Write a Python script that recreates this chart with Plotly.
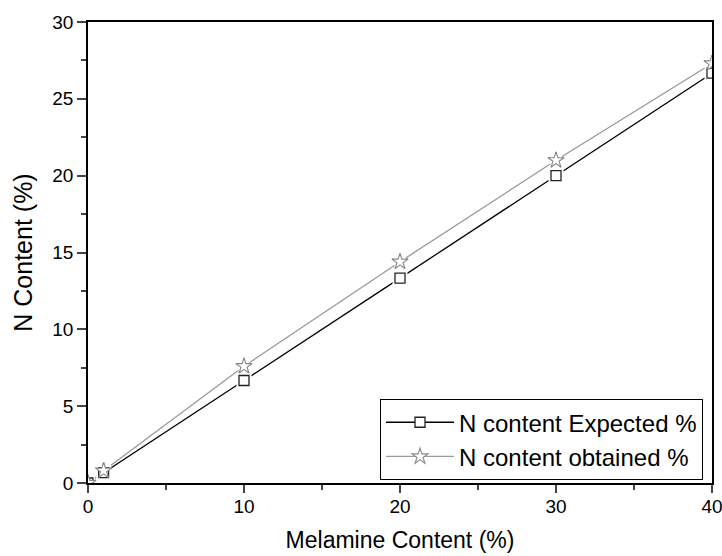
import plotly.graph_objects as go

melamine = [0, 1, 10, 20, 30, 40]
n_expected = [0, 0.67, 6.67, 13.33, 20.0, 26.67]
n_obtained = [0, 0.8, 7.6, 14.4, 21.0, 27.3]

FONT = "Arial, Liberation Sans, sans-serif"
sq_marker = dict(symbol="square", size=10, color="white", line=dict(color="#222", width=1.3))
st_marker = dict(symbol="star", size=12, color="white", line=dict(color="#888888", width=1.1))

fig = go.Figure()
fig.add_trace(go.Scatter(
    x=melamine, y=n_expected, mode="lines+markers", name="N content Expected %",
    line=dict(color="black", width=1.3), marker=sq_marker,
))
fig.add_trace(go.Scatter(
    x=melamine, y=n_obtained, mode="lines+markers", name="N content obtained %",
    line=dict(color="#999999", width=1.3), marker=st_marker,
))
# white halos to create the small gap between lines and markers
fig.add_trace(go.Scatter(x=melamine, y=n_expected, mode="markers", showlegend=False, hoverinfo="skip",
                         marker=dict(symbol="square", size=15, color="white", line=dict(width=0))))
fig.add_trace(go.Scatter(x=melamine, y=n_obtained, mode="markers", showlegend=False, hoverinfo="skip",
                         marker=dict(symbol="circle", size=14, color="white", line=dict(width=0))))
fig.add_trace(go.Scatter(x=melamine, y=n_expected, mode="markers", showlegend=False, hoverinfo="skip",
                         marker=sq_marker))
fig.add_trace(go.Scatter(x=melamine, y=n_obtained, mode="markers", showlegend=False, hoverinfo="skip",
                         marker=st_marker))

axis_font = dict(family=FONT, size=19, color="black")
fig.update_xaxes(
    range=[0, 40], tickvals=[0, 10, 20, 30, 40], ticks="outside", ticklen=8, tickwidth=1.8,
    minor=dict(tickvals=[5, 15, 25, 35], ticks="outside", ticklen=5, tickwidth=1.8),
    showline=True, linecolor="black", linewidth=1.8, mirror=True, showgrid=False, zeroline=False,
    tickfont=axis_font, automargin=False, ticklabeloverflow="allow", ticklabelstandoff=-3,
    title=dict(text="Melamine Content (%)", font=dict(family=FONT, size=23, color="black"), standoff=16),
)
fig.update_yaxes(
    range=[0, 30], tickvals=[0, 5, 10, 15, 20, 25, 30], ticks="outside", ticklen=9, tickwidth=1.8,
    minor=dict(tickvals=[2.5, 7.5, 12.5, 17.5, 22.5, 27.5], ticks="outside", ticklen=5, tickwidth=1.8),
    showline=True, linecolor="black", linewidth=1.8, mirror=True, showgrid=False, zeroline=False,
    tickfont=axis_font, automargin=False,
    title=dict(text="N Content (%)", font=dict(family=FONT, size=25, color="black"), standoff=12),
)
fig.update_layout(
    width=722, height=556,
    margin=dict(l=88, r=10, t=22, b=73),
    paper_bgcolor="white", plot_bgcolor="white",
    legend=dict(
        x=0.9856, y=0.094, xanchor="right", yanchor="middle",
        bgcolor="white", bordercolor="black", borderwidth=1,
        font=dict(family=FONT, size=24, color="black"),
        tracegroupgap=0, itemwidth=68,
    ),
)
fig.write_html("out.html")
